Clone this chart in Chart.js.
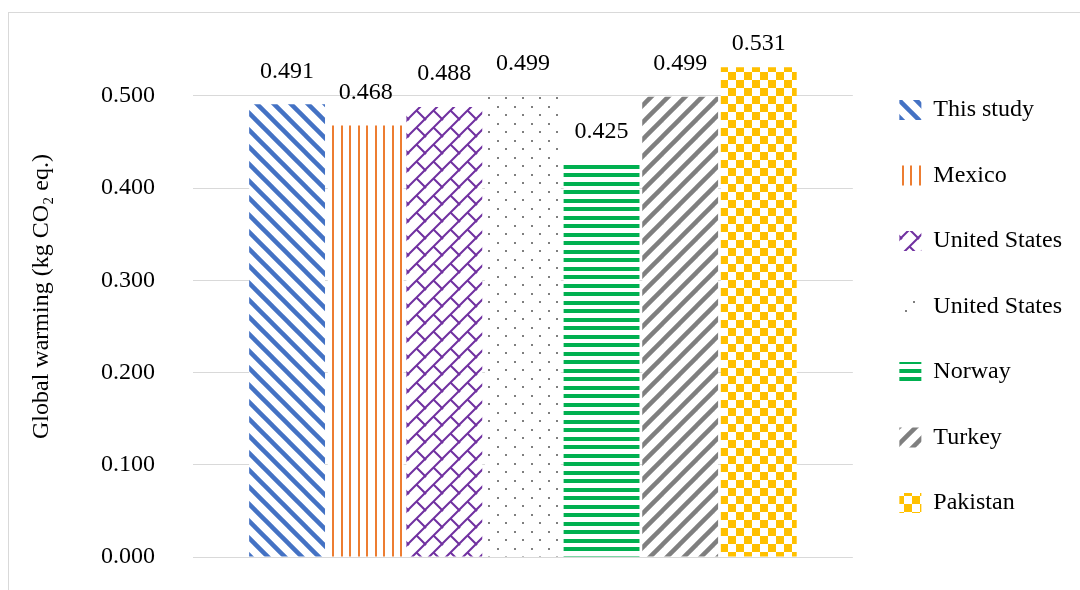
<!DOCTYPE html>
<html lang="en">
<head>
<meta charset="UTF-8">
<title>Global warming comparison</title>
<script src="https://cdn.jsdelivr.net/npm/chart.js"></script>
<style>
  html, body { margin: 0; padding: 0; background: #fff; }
  canvas { display: block; }
</style>
</head>
<body>
<canvas id="gw-chart" width="1080" height="590"></canvas>
<script>
// values per study (kg CO2 eq.)
const studies = ['This study', 'Mexico', 'United States', 'United States', 'Norway', 'Turkey', 'Pakistan'];
const gwValues = [0.491, 0.468, 0.488, 0.499, 0.425, 0.499, 0.531];
const yTicks = [0, 0.1, 0.2, 0.3, 0.4, 0.5];
const barColors = ['#4472C4', '#ED7D31', '#7030A0', '#7F7F7F', '#00B050', '#7F7F7F', '#FFC000'];
const barFills = ['wideDown', 'vertical', 'diagBrick', 'dots', 'horizontal', 'wideUp', 'checker'];

Chart.defaults.font.family = "'Liberation Serif', 'Times New Roman', serif";
Chart.defaults.color = '#000';

// small repeating tiles used as bar fills
function makePattern(kind, color) {
  const s = kind === 'checker' ? 16 : 17;
  const c = document.createElement('canvas');
  c.width = s; c.height = s;
  const g = c.getContext('2d');
  g.fillStyle = '#fff';
  g.fillRect(0, 0, s, s);
  g.fillStyle = color;
  g.strokeStyle = color;
  switch (kind) {
    case 'wideDown':
      g.lineWidth = 4.5;
      for (const o of [-s, 0, s]) {
        g.beginPath(); g.moveTo(o - 2, -2); g.lineTo(o + s + 2, s + 2); g.stroke();
      }
      break;
    case 'wideUp':
      g.lineWidth = 4.5;
      for (const o of [-s, 0, s]) {
        g.beginPath(); g.moveTo(o - 2, s + 2); g.lineTo(o + s + 2, -2); g.stroke();
      }
      break;
    case 'vertical':
      g.fillRect(1, 0, 2, s);
      g.fillRect(9, 0, 2, s);
      break;
    case 'horizontal':
      g.fillRect(0, 3, s, 4);
      g.fillRect(0, 12, s, 4);
      break;
    case 'diagBrick':
      g.lineWidth = 2;
      for (const o of [-s, 0, s]) {
        g.beginPath(); g.moveTo(o - 1, s + 1); g.lineTo(o + s + 1, -1); g.stroke();
      }
      g.beginPath(); g.moveTo(s / 2, s / 2); g.lineTo(s + 1, s + 1); g.stroke();
      g.beginPath(); g.moveTo(-1, -1); g.lineTo(1, 1); g.stroke();
      break;
    case 'dots':
      g.fillRect(4, 4, 2, 2);
      g.fillRect(12, 12, 2, 2);
      break;
    case 'checker':
      g.fillRect(0, 0, s / 2, s / 2);
      g.fillRect(s / 2, s / 2, s / 2, s / 2);
      break;
  }
  return g.createPattern(c, 'repeat');
}

const datasets = studies.map((name, i) => ({
  label: name,
  data: [gwValues[i]],
  backgroundColor: makePattern(barFills[i], barColors[i]),
  borderWidth: 0,
  categoryPercentage: 0.834,
  barPercentage: 0.965
}));

// white page with a thin grey frame
const framePlugin = {
  id: 'frame',
  beforeDraw(chart) {
    const ctx = chart.ctx;
    ctx.save();
    ctx.fillStyle = '#fff';
    ctx.fillRect(0, 0, chart.width, chart.height);
    ctx.strokeStyle = '#d9d9d9';
    ctx.lineWidth = 1;
    ctx.strokeRect(8.5, 12.5, chart.width + 20, chart.height + 20);
    ctx.restore();
  }
};

// nudge the legend a bit right and down from its default spot
const legendNudge = {
  id: 'legendNudge',
  afterLayout(chart) {
    const lg = chart.legend;
    lg.left += 5; lg.right += 5;
    lg.top += 10; lg.bottom += 10;
  }
};

// value labels above each bar, kept inside the top of the plot
const valueLabels = {
  id: 'valueLabels',
  afterDatasetsDraw(chart) {
    const ctx = chart.ctx;
    ctx.save();
    ctx.font = "24px 'Liberation Serif', 'Times New Roman', serif";
    ctx.fillStyle = '#000';
    ctx.textAlign = 'center';
    ctx.textBaseline = 'middle';
    chart.data.datasets.forEach((ds, i) => {
      chart.getDatasetMeta(i).data.forEach((bar, j) => {
        const y = Math.max(bar.y - 33, chart.chartArea.top + 8);
        ctx.fillText(ds.data[j].toFixed(3), bar.x, y);
      });
    });
    ctx.restore();
  }
};

new Chart(document.getElementById('gw-chart'), {
  type: 'bar',
  data: { labels: [''], datasets },
  options: {
    responsive: false,
    animation: false,
    layout: { padding: { left: 10, right: 13, top: 36, bottom: 33 } },
    plugins: {
      tooltip: { enabled: false },
      legend: {
        position: 'right',
        align: 'center',
        labels: {
          boxWidth: 22,
          boxHeight: 20,
          padding: 41.5,
          color: '#000',
          font: { size: 24 }
        }
      }
    },
    scales: {
      x: { display: false },
      y: {
        min: 0,
        max: 0.565,
        afterBuildTicks: scale => { scale.ticks = yTicks.map(v => ({ value: v })); },
        afterFit: scale => { scale.width = 183; },
        border: { display: false },
        grid: {
          color: '#d9d9d9',
          lineWidth: 1,
          drawTicks: true,
          tickLength: 38,
          tickColor: 'rgba(0,0,0,0)'
        },
        ticks: {
          padding: 0,
          color: '#000',
          font: { size: 24 },
          callback: v => v.toFixed(3)
        },
        title: {
          display: true,
          text: 'Global warming (kg CO₂ eq.)',
          color: '#000',
          font: { size: 24 },
          padding: { top: 17, bottom: 0 }
        }
      }
    }
  },
  plugins: [framePlugin, legendNudge, valueLabels]
});
</script>
</body>
</html>
